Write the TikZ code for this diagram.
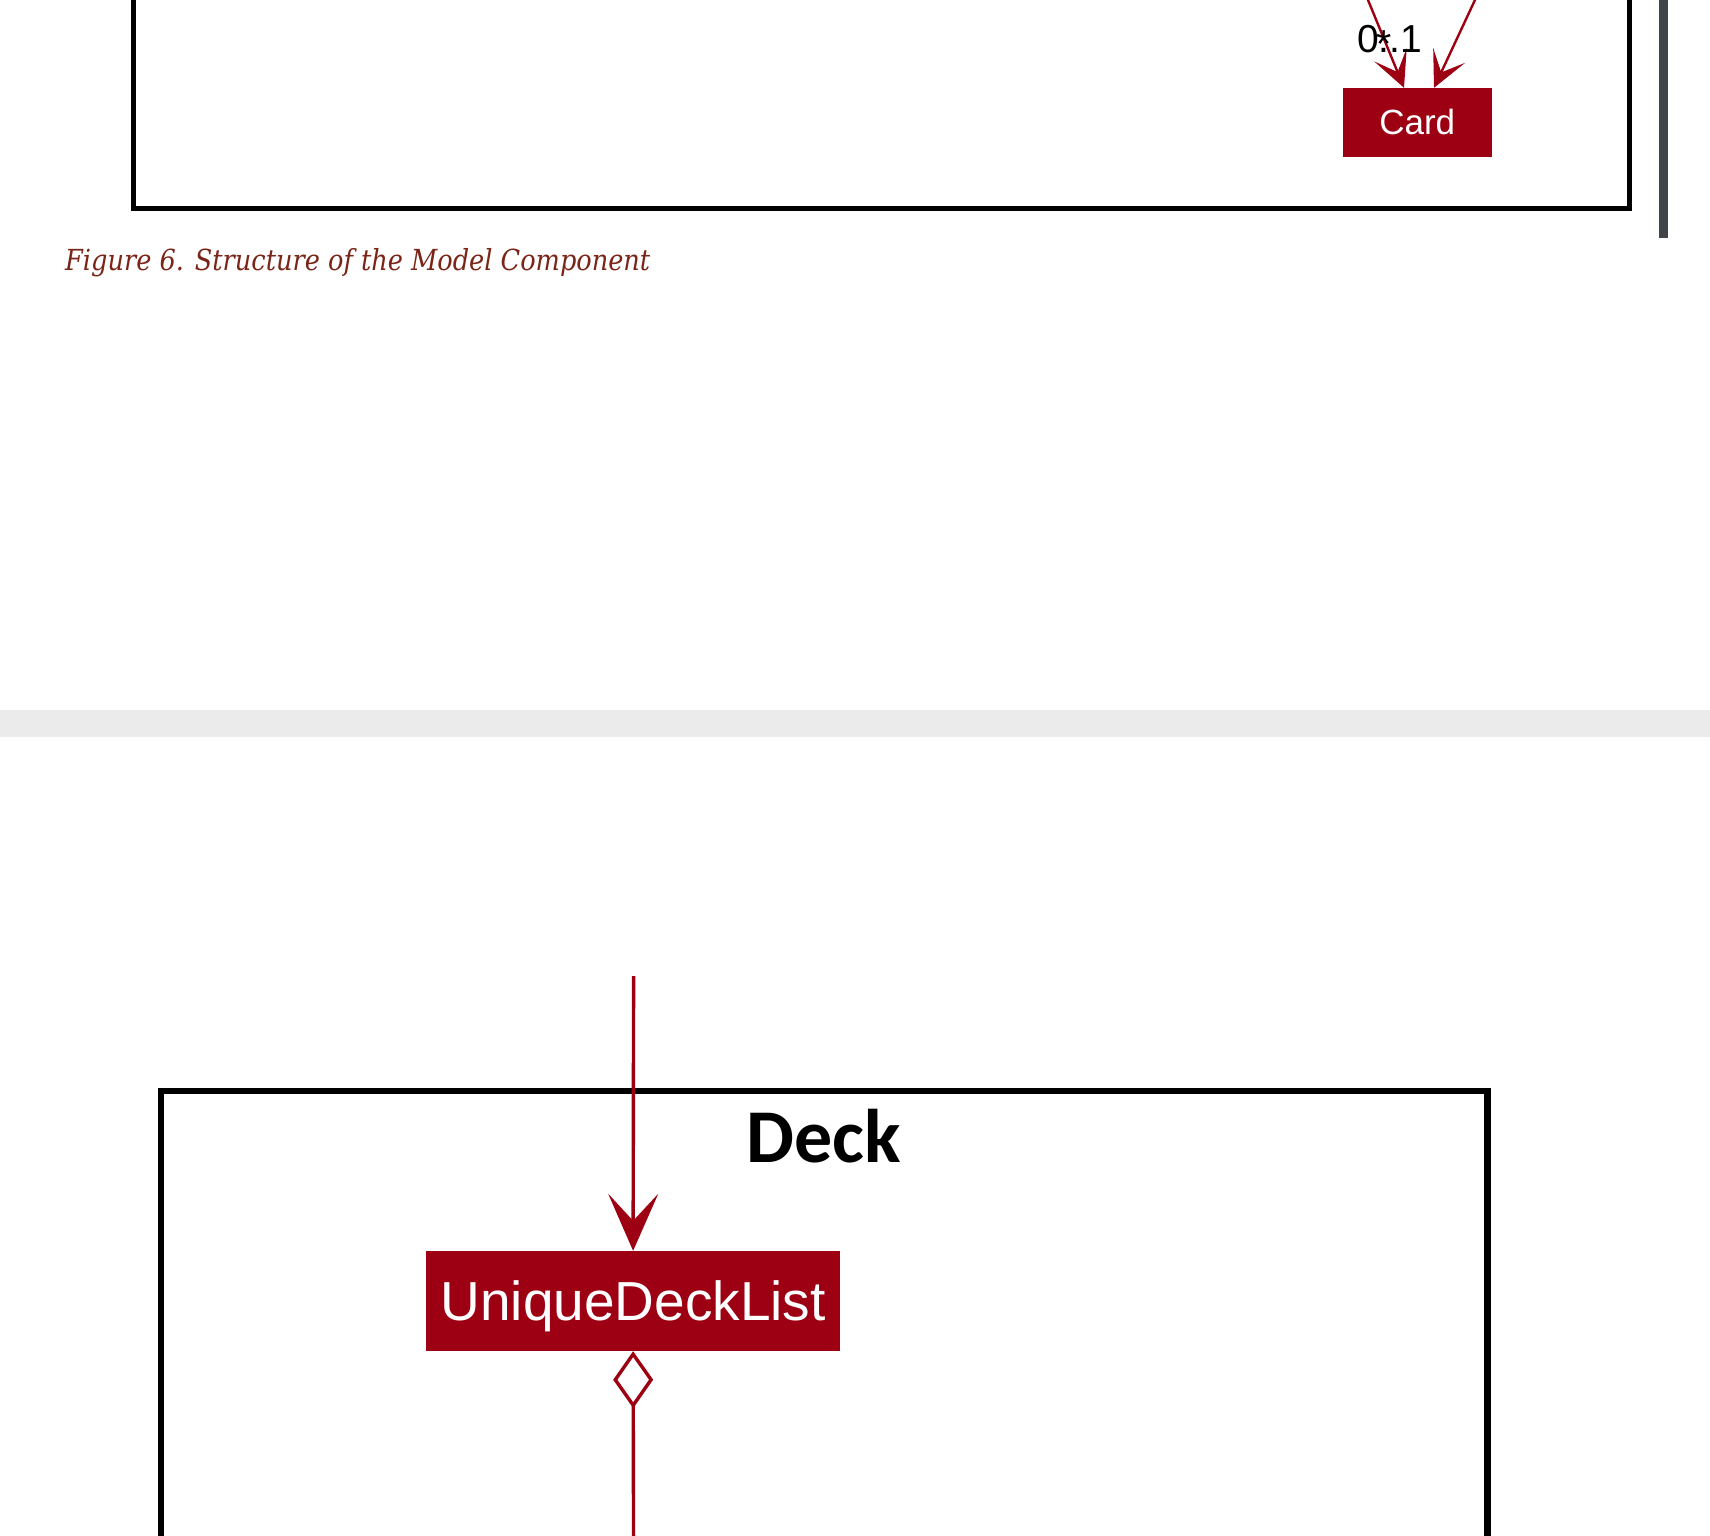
\documentclass[tikz,border=0pt]{standalone}
\usepackage{fontspec}
\usepackage{graphicx}
\usetikzlibrary{arrows.meta}
\setmainfont{Liberation Sans}
\newfontfamily\capfont{DejaVu Serif}
\newfontfamily\pkgfont{Carlito}
\definecolor{model}{HTML}{9D0012}
\definecolor{capred}{HTML}{7A2518}
\definecolor{bandgray}{HTML}{EBEBEB}
\definecolor{bargray}{HTML}{404347}
\tikzset{
  cls/.style={fill=model, text=white, inner sep=0pt, text depth=0pt},
  pkgframe/.style={draw=black, line width=5pt},
  assocsmall/.style={draw=model, line width=2.4pt, -{Stealth[length=35.6pt, width=35pt, inset=18.6pt]}},
  assocbig/.style={draw=model, line width=3.4pt, -{Stealth[length=57pt, width=50pt, inset=27pt]}},
  aggbig/.style={draw=model, line width=3.4pt, {Diamond[open, length=57pt, width=40pt, fill=white]}-},
  mult/.style={inner sep=0pt, text=black, font=\fontsize{39}{47}\selectfont}
}
\begin{document}
\begin{tikzpicture}[x=1pt,y=-1pt]
\useasboundingbox (0,0) rectangle (1710,1536);
\clip (0,0) rectangle (1710,1536);
\fill[white] (0,0) rectangle (1710,1536);

% upper part
\draw[pkgframe] (133.5,-20) -- (133.5,208) -- (1629.5,208) -- (1629.5,-20);
\fill[bargray] (1659,0) rectangle (1668,238);

\node[cls, minimum width=149pt, minimum height=69pt, text height=25pt,
      font=\fontsize{35}{42}\selectfont] (card) at (1417.2,122.5) {Card};

\coordinate (in1) at (1359.8,-20);
\coordinate (in2) at (1484.3,-20);
\draw[assocsmall] (in1) -- ([xshift=-13.2pt]card.north);
\draw[assocsmall] (in2) -- ([xshift=16.8pt]card.north);

\node[mult, anchor=base west] (m1) at (1357,53) {0..1};
\node[mult, anchor=base] (m2) at (1384,58) {*};

\node[anchor=base west, inner sep=0pt, text=capred] (caption) at (65,270)
  {\resizebox{585pt}{\height}{\capfont\itshape\fontsize{29}{35}\selectfont Figure 6. Structure of the Model Component}};

% separator band
\fill[bandgray] (0,710) rectangle (1710,737);

% lower part
\draw[pkgframe, line width=6.5pt] (161,1560) -- (161,1091) -- (1487.5,1091) -- (1487.5,1560);
\node[anchor=base west, inner sep=0pt, font=\pkgfont\bfseries\fontsize{76}{90}\selectfont] (decktitle) at (746,1162) {Deck};

\node[cls, minimum width=413.4pt, minimum height=100pt, text height=39.5pt,
      font=\fontsize{55}{66}\selectfont] (udl) at (633.1,1301) {UniqueDeckList};

\coordinate (from) at (633.6,976);
\coordinate (down) at (633.6,1560);
\draw[assocbig] (from) -- (udl.north);
\draw[aggbig] (udl.south) -- (down);
\end{tikzpicture}
\end{document}
